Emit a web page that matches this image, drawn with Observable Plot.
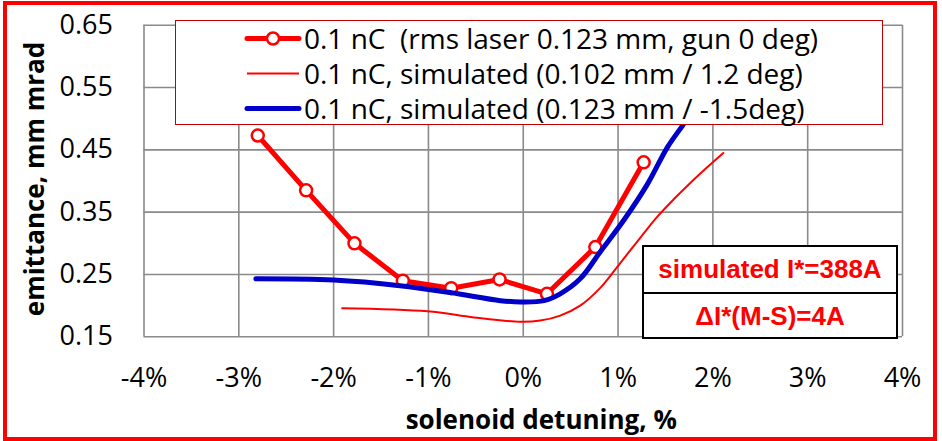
<!DOCTYPE html>
<html>
<head>
<meta charset="utf-8">
<script src="https://cdn.jsdelivr.net/npm/d3@7"></script>
<script src="https://cdn.jsdelivr.net/npm/@observablehq/plot@0.6"></script>
<style>
  body { margin: 0; background: #fff; }
  #wrap { position: relative; width: 942px; height: 441px; overflow: hidden; background: #fff; }
  #wrap > svg { position: absolute; left: 0; top: 0; }
  #border { position: absolute; left: 3px; top: 1px; width: 934px; height: 440px; border: 4.5px solid #ff0000; box-sizing: border-box; pointer-events: none; }
  #legend { position: absolute; left: 175px; top: 20px; width: 708px; height: 105px; border: 1.5px solid #c00000; background: #fff; box-sizing: border-box; font-family: "Open Sans"; font-size: 28px; color: #000; }
  .lrow { position: absolute; left: 0; height: 35px; width: 100%; }
  .lrow svg { position: absolute; left: 68px; top: 0; }
  .lrow span { position: absolute; left: 128px; top: 0; line-height: 35px; white-space: pre; }
  #note { position: absolute; left: 642px; top: 245px; width: 256px; height: 94px; border: 2px solid #000; background: #fff; box-sizing: border-box; font-family: "Liberation Sans"; font-weight: bold; font-size: 26px; color: #ff0000; text-align: center; }
  #note div { height: 45px; line-height: 45px; }
  #note div + div { border-top: 2px solid #000; }
</style>
</head>
<body>
<div id="wrap"></div>
<script>
// ---- data ----
const xTicks = [-4, -3, -2, -1, 0, 1, 2, 3, 4];
const yTicks = [0.15, 0.25, 0.35, 0.45, 0.55, 0.65];

// measured, 0.1 nC (rms laser 0.123 mm, gun 0 deg)
const measX = [-2.80, -2.29, -1.78, -1.27, -0.76, -0.25, 0.25, 0.76, 1.27];
const measY = [0.473, 0.385, 0.300, 0.240, 0.228, 0.242, 0.219, 0.294, 0.430];

// simulated (0.102 mm / 1.2 deg)
const sim102X = [-1.91, -1.01, -0.52, -0.03, 0.18, 0.39, 0.60, 0.815, 0.99, 1.24, 1.41, 1.59, 1.77, 1.94, 2.11];
const sim102Y = [0.196, 0.191, 0.181, 0.174, 0.176, 0.184, 0.200, 0.229, 0.262, 0.310, 0.342, 0.371, 0.398, 0.422, 0.445];

// simulated (0.123 mm / -1.5 deg)
const sim123X = [-2.82, -2.00, -1.30, -0.77, -0.24, -0.03, 0.22, 0.39, 0.60, 0.815, 1.06, 1.31, 1.52, 1.68, 1.75];
const sim123Y = [0.243, 0.241, 0.232, 0.221, 0.208, 0.206, 0.208, 0.219, 0.243, 0.287, 0.337, 0.395, 0.454, 0.489, 0.505];

const seriesNames = [
  "0.1 nC  (rms laser 0.123 mm, gun 0 deg)",
  "0.1 nC, simulated (0.102 mm / 1.2 deg)",
  "0.1 nC, simulated (0.123 mm / -1.5deg)"
];
const xTitle = "solenoid detuning, %";
const yTitle = "emittance, mm mrad";
const notes = ["simulated I*=388A", "\u0394I*(M-S)=4A"];

// ---- build tables ----
const meas = measX.map((x, i) => ({x, y: measY[i]}));
const sim102 = sim102X.map((x, i) => ({x, y: sim102Y[i]}));
const sim123 = sim123X.map((x, i) => ({x, y: sim123Y[i]}));

const RED = "#ff0000", BLUE = "#0000c8", GRID = "#8a8a8a";

const chart = Plot.plot({
  width: 942,
  height: 441,
  marginLeft: 143.5,
  marginRight: 40,
  marginTop: 24.7,
  marginBottom: 104.7,
  x: {domain: [-4, 4]},
  y: {domain: [0.15, 0.65]},
  style: {fontFamily: "'Open Sans'", fontSize: "27px", color: "#000", background: "transparent", overflow: "visible"},
  marks: [
    Plot.gridX(xTicks, {stroke: GRID, strokeOpacity: 1, strokeWidth: 1.6}),
    Plot.gridY(yTicks, {stroke: GRID, strokeOpacity: 1, strokeWidth: 1.6}),
    Plot.axisX(xTicks, {tickSize: 0, tickPadding: 31, tickFormat: d => d + "%", label: null}),
    Plot.axisY(yTicks, {tickSize: 0, tickPadding: 31, tickFormat: d3.format(".2f"), label: null}),
    Plot.line(meas, {x: "x", y: "y", stroke: RED, strokeWidth: 5}),
    Plot.dot(meas, {x: "x", y: "y", r: 6, stroke: RED, fill: "#fff", strokeWidth: 2.5}),
    Plot.line(sim102, {x: "x", y: "y", stroke: RED, strokeWidth: 2, curve: "catmull-rom"}),
    Plot.line(sim123, {x: "x", y: "y", stroke: BLUE, strokeWidth: 5, curve: "catmull-rom"}),
    Plot.text([xTitle], {text: d => d, frameAnchor: "bottom", textAnchor: "middle", lineAnchor: "middle", dx: 18, dy: 84, fontWeight: "bold", fontSize: 26}),
    Plot.text([yTitle], {text: d => d, frameAnchor: "left", textAnchor: "middle", lineAnchor: "middle", rotate: -90, dx: -108, dy: -2, fontWeight: "bold", fontSize: 26})
  ]
});

const wrap = document.getElementById("wrap");
wrap.appendChild(chart);

// legend
const legend = document.createElement("div");
legend.id = "legend";
const centers = [17, 52, 87];
seriesNames.forEach((name, i) => {
  const row = document.createElement("div");
  row.className = "lrow";
  row.style.top = (centers[i] - 17.5) + "px";
  const sw = d3.create("svg").attr("width", 58).attr("height", 35);
  if (i === 0) {
    sw.append("line").attr("x1", 3).attr("x2", 55).attr("y1", 17.5).attr("y2", 17.5)
      .attr("stroke", RED).attr("stroke-width", 5).attr("stroke-linecap", "round");
    sw.append("circle").attr("cx", 29).attr("cy", 17.5).attr("r", 6)
      .attr("fill", "#fff").attr("stroke", RED).attr("stroke-width", 2.5);
  } else if (i === 1) {
    sw.append("line").attr("x1", 3).attr("x2", 55).attr("y1", 17.5).attr("y2", 17.5)
      .attr("stroke", RED).attr("stroke-width", 2);
  } else {
    sw.append("line").attr("x1", 3).attr("x2", 55).attr("y1", 17.5).attr("y2", 17.5)
      .attr("stroke", BLUE).attr("stroke-width", 5).attr("stroke-linecap", "round");
  }
  row.appendChild(sw.node());
  const span = document.createElement("span");
  span.textContent = name;
  row.appendChild(span);
  legend.appendChild(row);
});
wrap.appendChild(legend);

// annotation box
const note = document.createElement("div");
note.id = "note";
notes.forEach(t => {
  const d = document.createElement("div");
  d.textContent = t;
  note.appendChild(d);
});
wrap.appendChild(note);

// outer red border
const border = document.createElement("div");
border.id = "border";
wrap.appendChild(border);
</script>
</body>
</html>
